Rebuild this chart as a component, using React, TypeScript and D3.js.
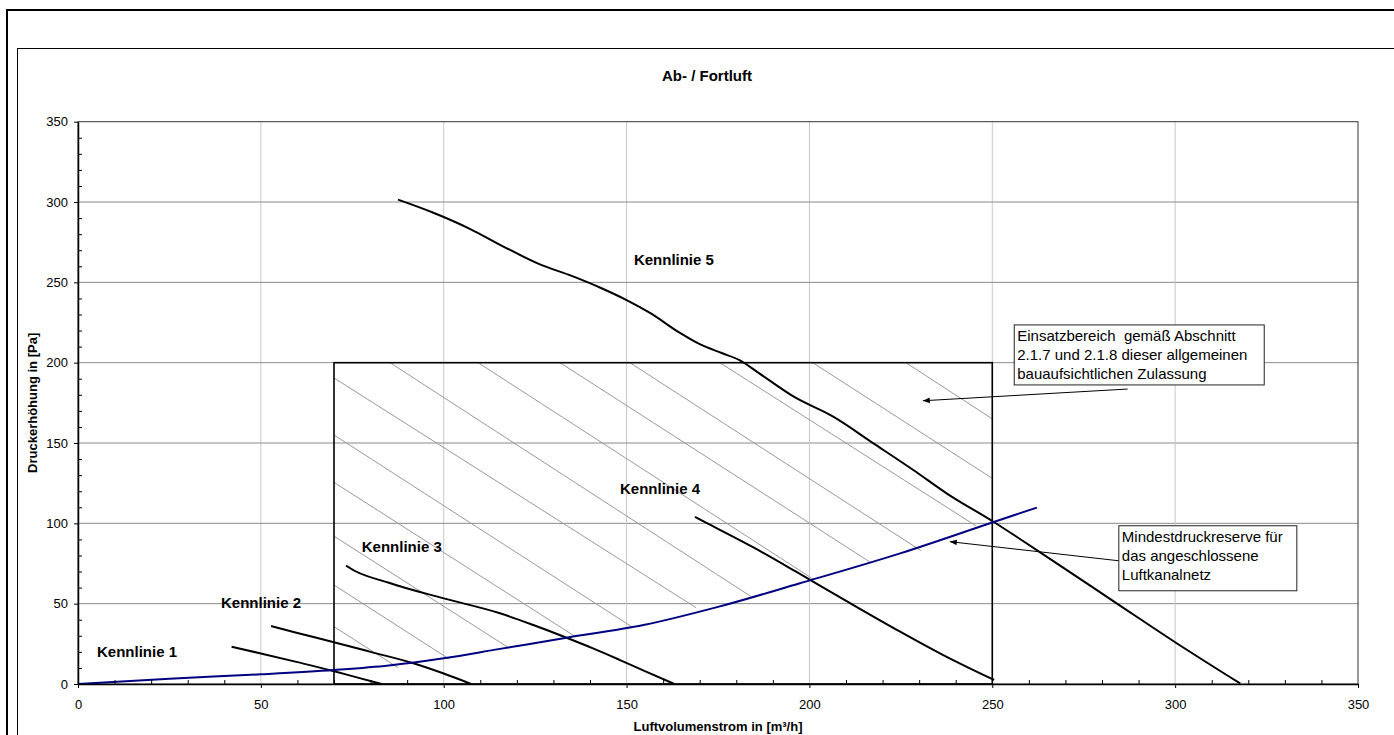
import React, { useEffect, useRef } from 'react';
import * as d3 from 'd3';

// Kennlinien (Luftvolumenstrom m³/h, Druckerhöhung Pa)
const kennlinie1: [number, number][] = [[42, 23.2], [50, 19], [60, 13.6], [69.8, 8.1], [76, 4.3], [83, 0]];
const kennlinie2: [number, number][] = [[52.8, 36.1], [60, 31.8], [70.5, 25.7], [80, 20], [91.7, 12.9], [100, 6.5], [107.5, 0]];
const kennlinie3: [number, number][] = [[73.3, 73.8], [73.9, 72.8], [85, 63], [100, 53.3], [115.4, 44], [124.5, 36.7], [133.6, 28.8], [141, 22], [148.2, 14.9], [155, 8], [162.8, 0.3]];
const kennlinie4: [number, number][] = [[168.7, 104], [172.5, 99.5], [184.7, 85], [197.4, 68.5], [211, 50.5], [224.8, 32.6], [236.6, 18], [250.5, 2.5]];
const kennlinie5: [number, number][] = [
  [87.5, 301.5], [97, 293.5], [107, 283.5], [117, 271.5], [126, 261.5], [135, 254], [143, 246.5], [150, 239],
  [156.4, 231], [164.6, 218.5], [170, 211.5], [176, 206], [181, 201.5], [186.5, 193], [195.6, 179],
  [206.5, 166.4], [217.5, 149.8], [228.4, 133.2], [237.5, 118.7], [250.3, 101], [267, 76], [284, 50.2],
  [300, 26], [317.8, 0.3],
];
// Mindestdruckreserve
const reserve: [number, number][] = [
  [0, 0], [25, 3.3], [50, 6], [70, 8.7], [85, 11.5], [100, 16], [115, 21.7], [133.6, 28.8], [154.6, 36.7],
  [175, 48], [197.4, 62.7], [224.8, 81.3], [250.6, 101], [262.2, 109.8],
];
// Einsatzbereich
const areaX = [70, 250];
const areaY = [0, 200];
const hatch: [number, number, number, number][] = [
  [70, 190.5, 169, 47.5], [70, 155, 151.5, 35.5], [70, 125.5, 136, 29.5], [70, 92, 118, 22.2],
  [70, 61.6, 101.5, 15.5], [70, 35.7, 87.5, 10.2],
  [85.3, 200, 184, 54.5], [109.4, 200, 201, 65.3], [131.8, 200, 216.5, 76], [150.9, 200, 230.5, 83],
  [175.5, 200, 245.5, 98.5], [200.9, 200, 250, 128], [226.4, 200, 250, 165],
];
const curveLabels: [string, number, number][] = [
  ['Kennlinie 1', 5.2, 16.6], ['Kennlinie 2', 39.1, 47.1], ['Kennlinie 3', 77.6, 82],
  ['Kennlinie 4', 148.2, 118.3], ['Kennlinie 5', 152, 260.8],
];
const majorTicks = [0, 50, 100, 150, 200, 250, 300, 350];
const box1Lines = ['Einsatzbereich  gemäß Abschnitt', '2.1.7 und 2.1.8 dieser allgemeinen', 'bauaufsichtlichen Zulassung'];
const box2Lines = ['Mindestdruckreserve für', 'das angeschlossene', 'Luftkanalnetz'];

const FONT = '"Liberation Sans", Arial, sans-serif';

const App = () => {
  const svgRef = useRef<SVGSVGElement>(null);

  useEffect(() => {
    const svg = d3.select(svgRef.current);
    svg.selectAll('*').remove();

    const x = d3.scaleLinear().domain([0, 350]).range([78, 1358]);
    const y = d3.scaleLinear().domain([0, 350]).range([684, 121.7]);

    // frames
    svg.append('rect').attr('x', 7).attr('y', 10).attr('width', 1500).attr('height', 1000)
      .attr('fill', 'white').attr('stroke', 'black').attr('stroke-width', 2);
    svg.append('rect').attr('x', 17.5).attr('y', 48.5).attr('width', 1500).attr('height', 1000)
      .attr('fill', 'white').attr('stroke', 'black').attr('stroke-width', 1);

    // grid
    majorTicks.slice(1, -1).forEach(v => {
      svg.append('line').attr('x1', x(v)).attr('x2', x(v)).attr('y1', y(0)).attr('y2', y(350))
        .attr('stroke', '#c8c8c8').attr('stroke-width', 1);
      svg.append('line').attr('x1', x(0)).attr('x2', x(350)).attr('y1', y(v)).attr('y2', y(v))
        .attr('stroke', '#8a8a8a').attr('stroke-width', 1);
    });
    svg.append('rect').attr('x', x(0)).attr('y', y(350)).attr('width', x(350) - x(0)).attr('height', y(0) - y(350))
      .attr('fill', 'none').attr('stroke', '#333').attr('stroke-width', 1);

    // hatching
    svg.selectAll('.hatch').data(hatch).enter().append('line')
      .attr('x1', d => x(d[0])).attr('y1', d => y(d[1])).attr('x2', d => x(d[2])).attr('y2', d => y(d[3]))
      .attr('stroke', '#999').attr('stroke-width', 1);

    // area rectangle
    svg.append('rect').attr('x', x(areaX[0])).attr('y', y(areaY[1]))
      .attr('width', x(areaX[1]) - x(areaX[0])).attr('height', y(areaY[0]) - y(areaY[1]))
      .attr('fill', 'none').attr('stroke', 'black').attr('stroke-width', 1.6);

    const line = d3.line<[number, number]>().x(d => x(d[0])).y(d => y(d[1])).curve(d3.curveMonotoneX);
    [kennlinie1, kennlinie2, kennlinie3, kennlinie4, kennlinie5].forEach(k => {
      svg.append('path').attr('d', line(k)).attr('fill', 'none').attr('stroke', 'black').attr('stroke-width', 2);
    });
    svg.append('path').attr('d', line(reserve)).attr('fill', 'none').attr('stroke', '#000080').attr('stroke-width', 2);

    // axes
    const minor = d3.range(0, 351, 10).filter(v => v % 50 !== 0);
    const xAxis = svg.append('g').attr('transform', `translate(0, ${y(0)})`)
      .call(d3.axisBottom(x).tickValues(majorTicks).tickSize(4).tickSizeOuter(0).tickPadding(12));
    svg.append('g').attr('transform', `translate(0, ${y(0)})`)
      .call(d3.axisBottom(x).tickValues(minor).tickSize(-4).tickSizeOuter(0).tickFormat(() => ''))
      .select('.domain').remove();
    const yAxis = svg.append('g').attr('transform', `translate(${x(0)}, 0)`)
      .call(d3.axisLeft(y).tickValues(majorTicks).tickSize(4).tickSizeOuter(0).tickPadding(6));
    svg.append('g').attr('transform', `translate(${x(0)}, 0)`)
      .call(d3.axisLeft(y).tickValues(minor).tickSize(-4).tickSizeOuter(0).tickFormat(() => ''))
      .select('.domain').remove();
    [xAxis, yAxis].forEach(g => {
      g.selectAll('text').attr('font-family', FONT).attr('font-size', 13).attr('fill', 'black');
      g.select('.domain').attr('stroke-width', 1.5);
    });
    svg.selectAll('.tick line').attr('stroke', 'black');

    // titles
    svg.append('text').attr('x', 707).attr('y', 81).attr('text-anchor', 'middle')
      .attr('font-family', FONT).attr('font-weight', 'bold').attr('font-size', 15).text('Ab- / Fortluft');
    svg.append('text').attr('x', 718).attr('y', 731).attr('text-anchor', 'middle')
      .attr('font-family', FONT).attr('font-weight', 'bold').attr('font-size', 13).text('Luftvolumenstrom in [m³/h]');
    svg.append('text').attr('transform', `translate(37, ${y(175)}) rotate(-90)`).attr('text-anchor', 'middle')
      .attr('font-family', FONT).attr('font-weight', 'bold').attr('font-size', 13).text('Druckerhöhung in [Pa]');

    curveLabels.forEach(([t, lx, ly]) => {
      svg.append('text').attr('x', x(lx)).attr('y', y(ly)).attr('font-family', FONT)
        .attr('font-weight', 'bold').attr('font-size', 15).text(t);
    });

    // annotations
    const defs = svg.append('defs');
    defs.append('marker').attr('id', 'arr').attr('viewBox', '0 0 10 10').attr('refX', 0).attr('refY', 5)
      .attr('markerWidth', 7).attr('markerHeight', 7).attr('orient', 'auto')
      .append('path').attr('d', 'M0,5 L10,1 L10,9 Z').attr('fill', 'black');

    const annot = (lines: string[], bx: number, by: number, bw: number, bh: number,
      ax1: number, ay1: number, ax2: number, ay2: number) => {
      svg.append('line').attr('x1', x(ax2)).attr('y1', y(ay2)).attr('x2', x(ax1)).attr('y2', y(ay1))
        .attr('stroke', 'black').attr('stroke-width', 1).attr('marker-start', 'url(#arr)');
      svg.append('rect').attr('x', x(bx)).attr('y', y(by)).attr('width', bw).attr('height', bh)
        .attr('fill', 'white').attr('stroke', '#222').attr('stroke-width', 1);
      lines.forEach((t, i) => {
        svg.append('text').attr('x', x(bx) + 3).attr('y', y(by) + 16 + i * 19)
          .attr('font-family', FONT).attr('font-size', 15).style('white-space', 'pre').text(t);
      });
    };
    annot(box1Lines, 256, 223.5, 250, 60, 287, 183.6, 231, 176.3);
    annot(box2Lines, 284.6, 98.5, 178, 65, 284.6, 76.7, 238.4, 88.6);
  }, []);

  return (
    <svg ref={svgRef} width={1394} height={735}
      style={{ position: 'absolute', left: 0, top: 0, background: 'white' }} />
  );
};

export default App;
